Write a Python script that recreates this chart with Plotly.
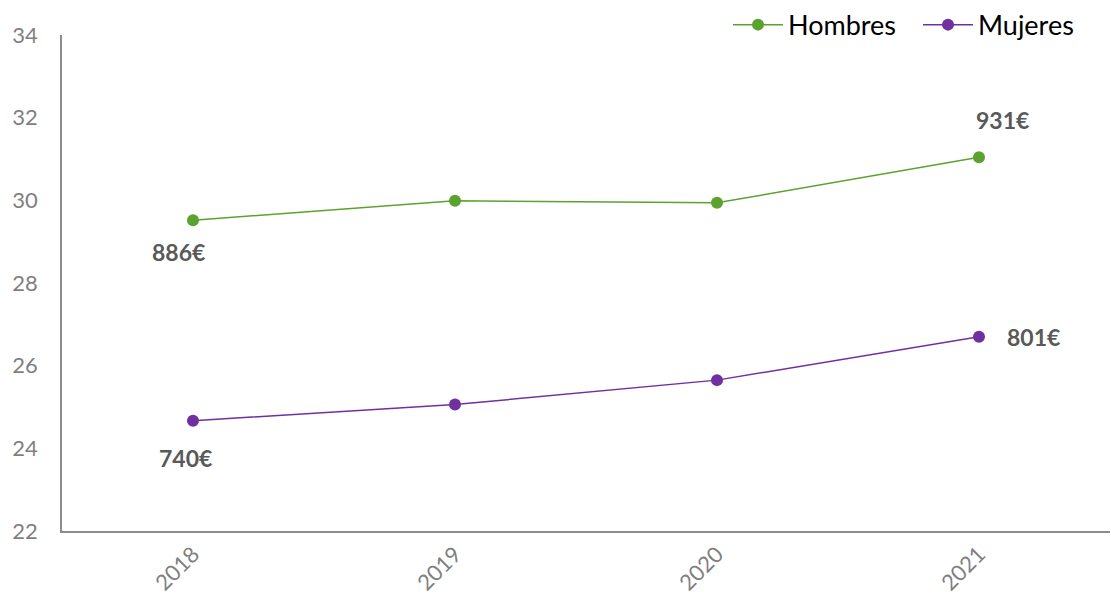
import plotly.graph_objects as go

years = ["2018", "2019", "2020", "2021"]
hombres = [29.52, 29.99, 29.94, 31.04]
mujeres = [24.67, 25.06, 25.65, 26.70]
label_years_h = ["2018", "2021"]
label_vals_h = [29.52, 31.04]
label_text_h = ["886€", "931€"]
label_years_m = ["2018", "2021"]
label_vals_m = [24.67, 26.70]
label_text_m = ["740€", "801€"]

green = "#5ba32e"
purple = "#7030a0"
font = "Lato"

fig = go.Figure()
fig.add_trace(go.Scatter(x=years, y=hombres, name="Hombres", mode="lines+markers",
                         line=dict(color=green, width=1.5), marker=dict(size=12, color=green)))
fig.add_trace(go.Scatter(x=years, y=mujeres, name="Mujeres", mode="lines+markers",
                         line=dict(color=purple, width=1.5), marker=dict(size=12, color=purple)))

shifts_h = [(-15, -32), (23, 37)]
shifts_m = [(-8, -37), (54, 0)]
for xv, yv, t, (dx, dy) in zip(label_years_h, label_vals_h, label_text_h, shifts_h):
    fig.add_annotation(x=years.index(xv), y=yv, xref="x", yref="y", text="<b>" + t + "</b>",
                       showarrow=False, xshift=dx, yshift=dy,
                       font=dict(family=font, size=23, color="#595959"))
for xv, yv, t, (dx, dy) in zip(label_years_m, label_vals_m, label_text_m, shifts_m):
    fig.add_annotation(x=years.index(xv), y=yv, xref="x", yref="y", text="<b>" + t + "</b>",
                       showarrow=False, xshift=dx, yshift=dy,
                       font=dict(family=font, size=23, color="#595959"))

fig.update_layout(
    width=1111, height=604,
    margin=dict(l=62, r=1, t=35, b=73, autoexpand=False),
    paper_bgcolor="white", plot_bgcolor="white",
    font=dict(family=font, size=22, color="#7f7f7f"),
    showlegend=True,
    legend=dict(orientation="h", x=0.6355, xanchor="left", y=1.02, yanchor="middle",
                font=dict(family=font, size=27, color="#000000"), bgcolor="rgba(0,0,0,0)",
                itemwidth=50, entrywidth=125, tracegroupgap=0),
    xaxis=dict(type="category", range=[-0.5, 3.5], showgrid=False, showline=True,
               linecolor="#8c8c8c", linewidth=1.5, tickangle=-45, ticks="",
               tickfont=dict(family=font, size=22, color="#7f7f7f")),
    yaxis=dict(range=[22, 34], dtick=2, showgrid=False, showline=True, zeroline=False,
               linecolor="#8c8c8c", linewidth=1.5, ticks="", ticklabelstandoff=18,
               tickfont=dict(family=font, size=22, color="#7f7f7f")),
)

fig.write_html("out.html")
